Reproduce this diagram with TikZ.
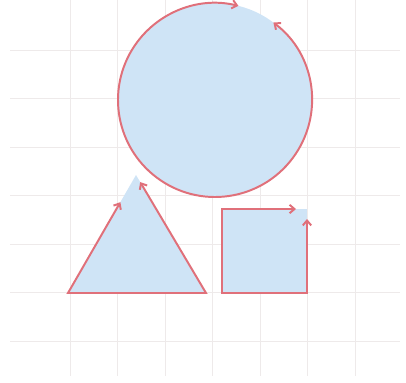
\documentclass[tikz,border=0pt]{standalone}
\usetikzlibrary{arrows.meta,calc}
\definecolor{shapefill}{HTML}{CFE4F6}
\definecolor{rimred}{HTML}{E0707A}
\definecolor{gridgray}{HTML}{EEEAEA}
\tikzset{
  rim/.style={draw=rimred, line width=1.4pt, line join=miter,
    {Straight Barb[length=3.5pt,width=6pt]}-{Straight Barb[length=3.5pt,width=6pt]}},
  paper/.style={draw=gridgray, line width=0.6pt}
}
\begin{document}
\begin{tikzpicture}[x=0.025cm, y=-0.025cm]
  \useasboundingbox (0,0) rectangle (406,382);
  % background grid
  \foreach \gx in {70,117.5,165,212.5,260,307.5,355}
    \draw[paper] (\gx,0) -- (\gx,376);
  \foreach \gy in {50,98.5,147,195.5,244,292.5,341}
    \draw[paper] (10,\gy) -- (400,\gy);
  % circle
  \coordinate (c) at (215,100);
  \fill[shapefill] (c) circle[radius=97];
  \draw[rim] (c) ++(-53:97) arc[start angle=-53, end angle=284, radius=97];
  % triangle
  \coordinate (tl) at (68,293);
  \coordinate (tr) at (206,293);
  \coordinate (tt) at (136,175);
  \fill[shapefill] (tl) -- (tr) -- (tt) -- cycle;
  \draw[rim] ($(tr)!0.94!(tt)$) -- (tr) -- (tl) -- ($(tl)!0.77!(tt)$);
  % square
  \coordinate (sa) at (222,209);
  \coordinate (sb) at (307,293);
  \fill[shapefill] (sa) rectangle (sb);
  \draw[rim] (307,219) -- (sb) -- (222,293) -- (sa) -- (296,209);
\end{tikzpicture}
\end{document}
